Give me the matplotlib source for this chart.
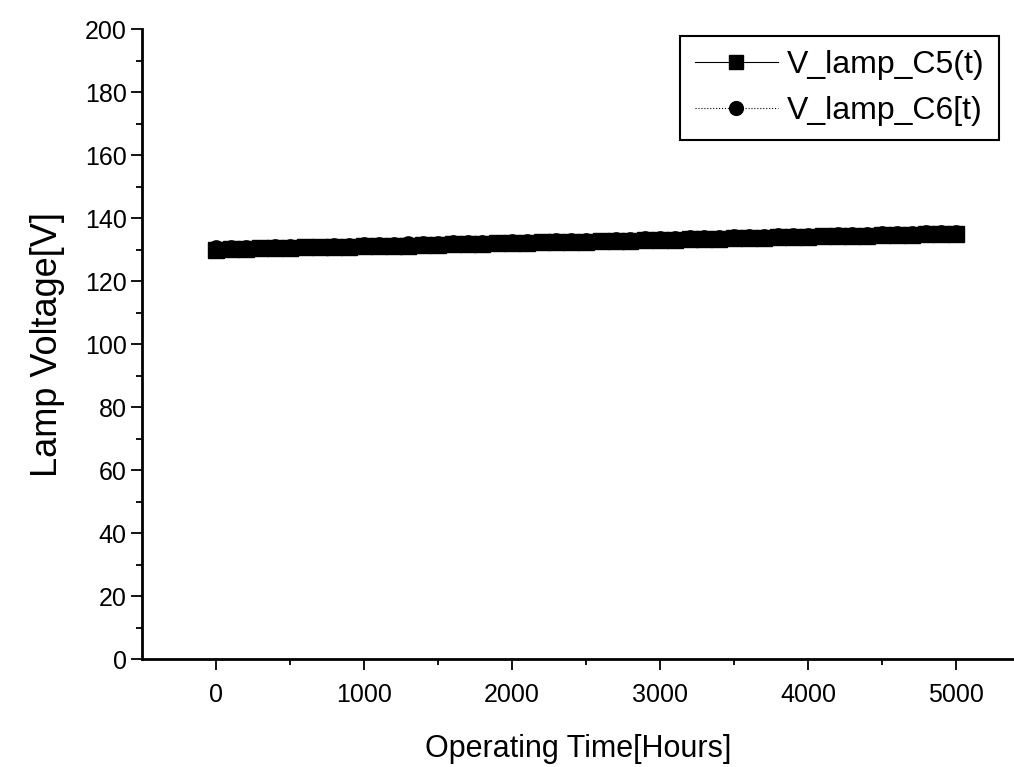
import matplotlib
matplotlib.use("Agg")
import matplotlib.pyplot as plt
from matplotlib.ticker import FixedLocator

plt.rcParams['font.family'] = ['Liberation Sans', 'DejaVu Sans']

hours = [0, 100, 200, 300, 400, 500, 600, 700, 800, 900,
         1000, 1100, 1200, 1300, 1400, 1500, 1600, 1700, 1800, 1900,
         2000, 2100, 2200, 2300, 2400, 2500, 2600, 2700, 2800, 2900,
         3000, 3100, 3200, 3300, 3400, 3500, 3600, 3700, 3800, 3900,
         4000, 4100, 4200, 4300, 4400, 4500, 4600, 4700, 4800, 4900, 5000]

v_c5 = [130.0, 130.2, 130.3, 130.4, 130.5, 130.5, 130.7, 130.8, 130.9, 131.0,
        131.1, 131.2, 131.3, 131.3, 131.5, 131.6, 131.7, 131.8, 131.9, 132.0,
        132.1, 132.2, 132.3, 132.4, 132.5, 132.6, 132.7, 132.7, 132.9, 133.0,
        133.1, 133.2, 133.3, 133.4, 133.5, 133.6, 133.7, 133.8, 133.9, 134.0,
        134.1, 134.2, 134.3, 134.3, 134.5, 134.6, 134.7, 134.8, 134.9, 135.0, 135.1]

v_c6 = [130.4, 130.5, 130.6, 130.6, 130.8, 130.9, 131.0, 131.0, 131.2, 131.3,
        131.4, 131.4, 131.6, 131.7, 131.7, 131.9, 132.0, 132.1, 132.2, 132.2,
        132.4, 132.5, 132.5, 132.7, 132.8, 132.9, 132.9, 133.1, 133.2, 133.3,
        133.3, 133.5, 133.6, 133.6, 133.8, 133.9, 134.0, 134.0, 134.2, 134.3,
        134.4, 134.4, 134.6, 134.7, 134.7, 134.9, 135.0, 135.1, 135.2, 135.3, 135.4]

x_major = [0, 1000, 2000, 3000, 4000, 5000]
x_minor = [500, 1500, 2500, 3500, 4500]
y_major = [0, 20, 40, 60, 80, 100, 120, 140, 160, 180, 200]
y_minor = [10, 30, 50, 70, 90, 110, 130, 150, 170, 190]

fig = plt.figure(figsize=(10.14, 7.67), dpi=100)
ax = fig.add_axes([0.140, 0.1408, 0.860, 0.821])

ax.plot(hours, v_c5, color='black', linestyle='-', linewidth=0.8,
        marker='s', markersize=11, label='V_lamp_C5(t)')
ax.plot(hours, v_c6, color='black', linestyle=':', linewidth=0.8,
        marker='o', markersize=11, label='V_lamp_C6[t)')

ax.set_xlim(-500, 5392)
ax.set_ylim(0, 200)

ax.xaxis.set_major_locator(FixedLocator(x_major))
ax.xaxis.set_minor_locator(FixedLocator(x_minor))
ax.yaxis.set_major_locator(FixedLocator(y_major))
ax.yaxis.set_minor_locator(FixedLocator(y_minor))

for s in ['top', 'right']:
    ax.spines[s].set_visible(False)
for s in ['left', 'bottom']:
    ax.spines[s].set_linewidth(2.0)

ax.tick_params(axis='both', which='major', direction='out', length=8, width=1.3,
               labelsize=18)
ax.tick_params(axis='both', which='minor', direction='out', length=4, width=1.3)
ax.tick_params(axis='x', which='major', pad=9)
ax.tick_params(axis='y', which='major', pad=3)

ax.set_xlabel('Operating Time[Hours]', fontsize=22, labelpad=20)
ax.set_ylabel('Lamp Voltage[V]', fontsize=26, labelpad=14)

leg = ax.legend(loc='upper right', bbox_to_anchor=(0.983, 0.99), fontsize=23,
                frameon=True, fancybox=False, handlelength=2.6,
                borderpad=0.45, labelspacing=0.5, handletextpad=0.3,
                borderaxespad=0.0, markerscale=0.9)
leg.get_frame().set_edgecolor('black')
leg.get_frame().set_linewidth(1.5)
leg.get_frame().set_alpha(1.0)

fig.savefig('out.png', dpi=100)
